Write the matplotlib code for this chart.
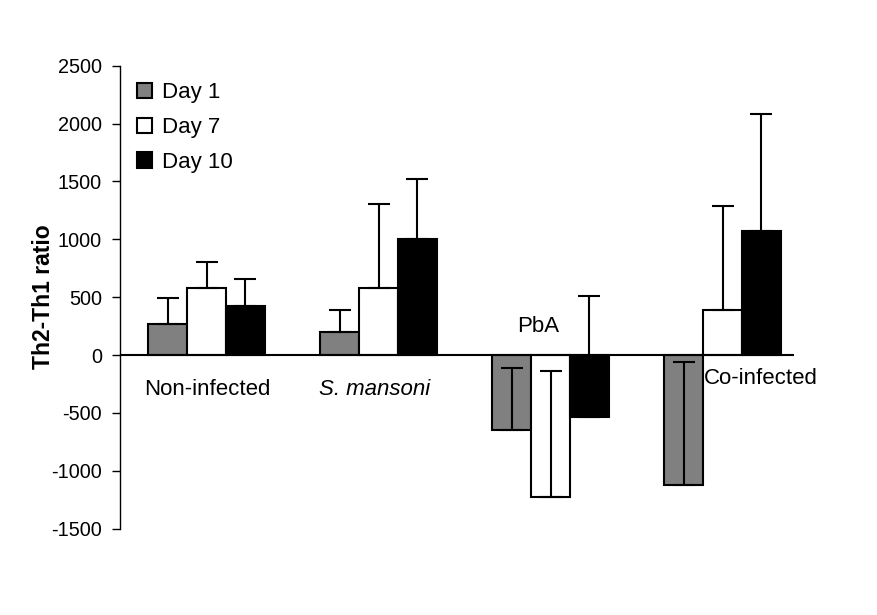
import numpy as np
import matplotlib
matplotlib.use('Agg')
from matplotlib import pyplot as plt
from matplotlib.patches import Patch

plt.rcParams['font.family'] = ['Liberation Sans', 'DejaVu Sans']
plt.rcParams['axes.unicode_minus'] = False

groups = ['Non-infected', 'S. mansoni', 'PbA', 'Co-infected']
days = ['Day 1', 'Day 7', 'Day 10']
day1 = [265, 199, -651, -1126]
day7 = [579, 579, -1227, 389]
day10 = [427, 1006, -532, 1075]
err1 = [228, 187, 542, 1065]
err7 = [228, 730, 1089, 896]
err10 = [227, 513, 1039, 1004]

colors = ['#808080', 'white', 'black']

fig = plt.figure(figsize=(8.78, 6.15), dpi=100)
ax = fig.add_axes([0.1367, 0.1405, 0.7677, 0.7527])

x = np.arange(len(groups))
w = 0.225
series = [day1, day7, day10]
errs = [err1, err7, err10]
for i in range(3):
    pos = x + (i - 1) * w
    ax.bar(pos, series[i], w, color=colors[i], edgecolor='black', linewidth=1.5, zorder=2)
    ax.errorbar(pos, series[i], yerr=[np.zeros(4), errs[i]], fmt='none',
                ecolor='black', elinewidth=1.5, capsize=8, capthick=1.5, zorder=3)

ax.axhline(0, color='black', linewidth=1.5, zorder=4)
ax.set_xlim(-0.503, 3.416)
ax.set_ylim(-1500, 2500)
ax.set_yticks(np.arange(-1500, 2501, 500))
ax.set_xticks([])
for s in ['top', 'right', 'bottom']:
    ax.spines[s].set_visible(False)
ax.spines['left'].set_linewidth(1)
ax.tick_params(axis='y', direction='out', length=6, width=1, labelsize=14.3, pad=7)
ax.set_ylabel('Th2-Th1 ratio', fontsize=16.5, fontweight='bold')
ax.yaxis.set_label_coords(-0.097, 0.5)

# category labels placed like the original
ax.text(0.006, -296, groups[0], fontsize=16, ha='center', va='center')
ax.text(0.979, -296, groups[1], fontsize=16, ha='center', va='center', style='italic')
ax.text(1.927, 248, groups[2], fontsize=16, ha='center', va='center')
ax.text(3.224, -201, groups[3], fontsize=16, ha='center', va='center')

handles = [Patch(facecolor=c, edgecolor='black', linewidth=1.5) for c in colors]
ax.legend(handles, days, loc='upper left', bbox_to_anchor=(0.0, 1.0), frameon=False,
          fontsize=16, handlelength=0.7, handleheight=0.7, handletextpad=0.45,
          labelspacing=0.62, borderaxespad=0.35)

fig.savefig('out.png', dpi=100)
